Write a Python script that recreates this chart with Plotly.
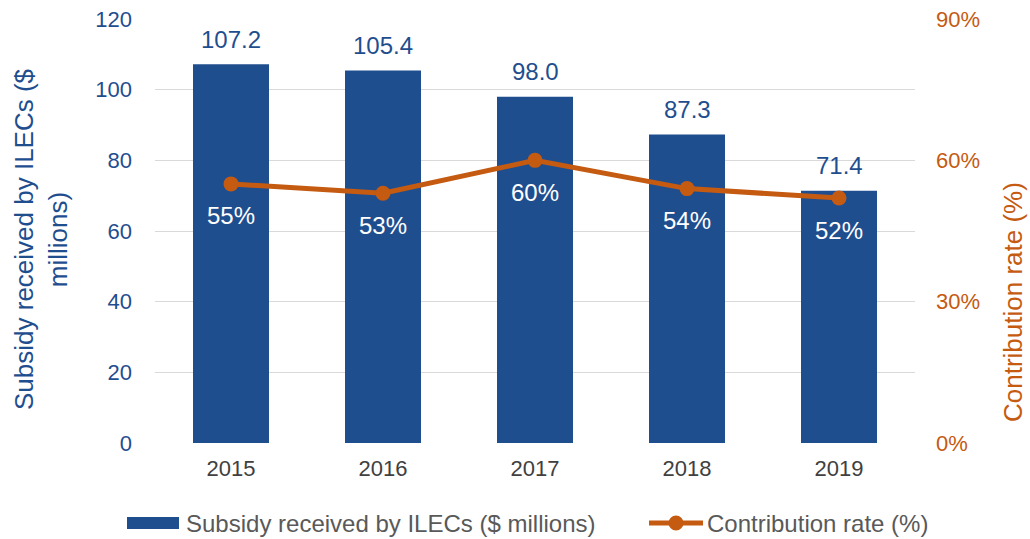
import plotly.graph_objects as go

years = ["2015", "2016", "2017", "2018", "2019"]
subsidy = [107.2, 105.4, 98.0, 87.3, 71.4]
contribution = [0.55, 0.53, 0.60, 0.54, 0.52]

bar_name = "Subsidy received by ILECs ($ millions)"
line_name = "Contribution rate (%)"
left_title = "Subsidy received by ILECs ($<br>millions)"
right_title = "Contribution rate (%)"

BLUE = "#1F4E8F"
ORANGE = "#C55A11"
GREY = "#595959"
FONT = "Liberation Sans, Arial, sans-serif"

# plot area in pixels, used to place legend items and titles in paper units
W, H = 1030, 539
L, R, T, B = 155, 115, 19, 96
PW, PH = W - L - R, H - T - B


def px(x):
    return (x - L) / PW


def py(y):
    return (H - B - y) / PH


fig = go.Figure()

fig.add_trace(go.Bar(
    x=years, y=subsidy, name=bar_name,
    marker=dict(color=BLUE, line=dict(width=0)), width=0.5,
    yaxis="y", showlegend=False,
))

fig.add_trace(go.Scatter(
    x=years, y=contribution, name=line_name,
    mode="lines+markers", yaxis="y2", showlegend=False,
    line=dict(color=ORANGE, width=5),
    marker=dict(color=ORANGE, size=15),
))

annotations = []
# value labels above bars (category index positions)
for i, v in enumerate(subsidy):
    annotations.append(dict(
        x=i, y=v, xref="x", yref="y", text=f"{v:.1f}", showarrow=False,
        yshift=25, font=dict(family=FONT, size=24, color=BLUE),
    ))
# percentage labels below line markers
for i, c in enumerate(contribution):
    annotations.append(dict(
        x=i, y=c, xref="x", yref="y2", text=f"{round(c*100)}%", showarrow=False,
        yshift=-32, font=dict(family=FONT, size=24, color="white"),
    ))
# axis titles
annotations.append(dict(
    x=px(41), y=py(239), xref="paper", yref="paper", showarrow=False, textangle=-90,
    xanchor="center", yanchor="middle",
    text=left_title, font=dict(family=FONT, size=26, color=BLUE),
))
annotations.append(dict(
    x=px(1013), y=py(302), xref="paper", yref="paper", showarrow=False, textangle=-90,
    xanchor="center", yanchor="middle",
    text=right_title, font=dict(family=FONT, size=26, color=ORANGE),
))
# legend labels
annotations.append(dict(
    x=px(184), y=py(523), xref="paper", yref="paper", showarrow=False,
    xanchor="left", yanchor="middle", text=bar_name,
    font=dict(family=FONT, size=24, color=GREY),
))
annotations.append(dict(
    x=px(705), y=py(523), xref="paper", yref="paper", showarrow=False,
    xanchor="left", yanchor="middle", text=line_name,
    font=dict(family=FONT, size=24, color=GREY),
))

# legend symbols
shapes = [
    dict(type="rect", xref="paper", yref="paper",
         x0=px(127), x1=px(179), y0=py(529), y1=py(517),
         fillcolor=BLUE, line=dict(width=0)),
    dict(type="line", xref="paper", yref="paper",
         x0=px(649), x1=px(703), y0=py(523), y1=py(523),
         line=dict(color=ORANGE, width=5)),
    dict(type="circle", xref="paper", yref="paper",
         x0=px(676 - 7.5), x1=px(676 + 7.5), y0=py(523 + 7.5), y1=py(523 - 7.5),
         fillcolor=ORANGE, line=dict(width=0)),
]

fig.update_layout(
    width=W, height=H,
    margin=dict(l=L, r=R, t=T, b=B),
    plot_bgcolor="white", paper_bgcolor="white",
    font=dict(family=FONT, size=22, color="#404040"),
    showlegend=False,
    xaxis=dict(
        type="category", range=[-0.5, 4.5], showgrid=False, showline=False, ticks="",
        automargin=False, ticklabelstandoff=10,
        tickfont=dict(family=FONT, size=22, color="#404040"),
    ),
    yaxis=dict(
        range=[0, 120], dtick=20, showgrid=True, gridcolor="#D9D9D9", gridwidth=1,
        zeroline=False, showline=False, ticks="", ticklabelstandoff=22, automargin=False,
        tickfont=dict(family=FONT, size=22, color=BLUE),
    ),
    yaxis2=dict(
        range=[0, 0.9], dtick=0.3, tickformat=".0%", overlaying="y", side="right",
        showgrid=False, zeroline=False, showline=False, ticks="", ticklabelstandoff=20,
        automargin=False, tickfont=dict(family=FONT, size=22, color=ORANGE),
    ),
    annotations=annotations,
    shapes=shapes,
)

fig.write_html("out.html")
